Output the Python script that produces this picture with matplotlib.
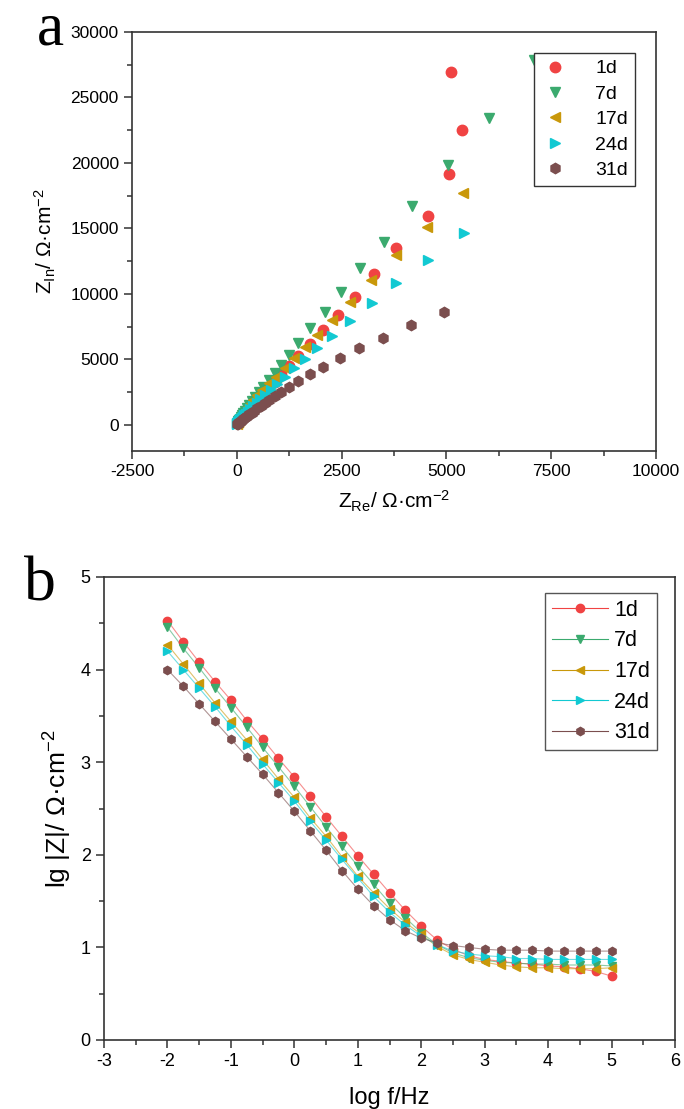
import matplotlib
matplotlib.use("Agg")
import matplotlib.pyplot as plt
from matplotlib.ticker import MultipleLocator

plt.rcParams['font.family'] = ['Liberation Sans', 'DejaVu Sans']
plt.rcParams['mathtext.fontset'] = 'custom'
plt.rcParams['mathtext.rm'] = 'Liberation Sans'
plt.rcParams['mathtext.it'] = 'Liberation Sans:italic'
plt.rcParams['axes.unicode_minus'] = False

labels = ['1d', '7d', '17d', '24d', '31d']
colors = ['#F04343', '#3BAA6E', '#C9980A', '#12C9D2', '#7B4E4E']
markers = ['o', 'v', '<', '>', 'h']

# panel a: Nyquist (Z_re, Z_im)
zre_1d = [5119, 5381, 5071, 4571, 3802, 3262, 2810, 2413, 2056, 1738, 1460, 1240, 1060, 900, 770,
          655, 560, 480, 410, 350, 295, 245, 200, 160, 125, 95, 68, 45, 25]
zim_1d = [26934, 22509, 19152, 15947, 13483, 11521, 9789, 8370, 7249, 6180, 5265, 4500, 3850, 3300, 2820,
          2400, 2050, 1750, 1490, 1260, 1060, 890, 740, 610, 500, 400, 310, 230, 160]
zre_7d = [7095, 6024, 5031, 4190, 3500, 2929, 2476, 2095, 1754, 1460, 1245, 1064, 905, 769, 626,
          520, 430, 355, 290, 235, 190, 150, 118, 90, 66, 46, 30, 17, 8]
zim_7d = [27850, 23402, 19838, 16710, 13986, 11957, 10171, 8645, 7378, 6234, 5341, 4578, 3945, 3434, 2922,
          2500, 2130, 1810, 1530, 1290, 1080, 900, 740, 600, 480, 370, 270, 180, 100]
zre_17d = [5389, 4532, 3802, 3206, 2690, 2278, 1912, 1619, 1365, 1143, 945, 769, 611,
           490, 395, 320, 258, 208, 168, 135, 108, 86, 67, 51, 38, 27, 18, 10, 4]
zim_17d = [17680, 15130, 12971, 11064, 9408, 8012, 6867, 5928, 5087, 4324, 3688, 3180, 2670,
           2250, 1900, 1600, 1350, 1140, 960, 810, 680, 570, 475, 390, 315, 245, 180, 120, 60]
zre_24d = [5429, 4571, 3802, 3230, 2706, 2278, 1912, 1619, 1357, 1143,
           960, 805, 675, 565, 470, 390, 322, 265, 217, 176, 142, 113, 88, 67, 50, 35, 23, 13, 5]
zim_24d = [14626, 12590, 10812, 9286, 7935, 6791, 5852, 5013, 4324, 3688,
           3150, 2690, 2290, 1950, 1660, 1410, 1195, 1010, 850, 715, 598, 497, 410, 335, 270, 210, 155, 105, 55]
zre_31d = [4952, 4167, 3484, 2912, 2452, 2056, 1738, 1460, 1245, 1064,
           910, 780, 668, 572, 490, 418, 356, 302, 255, 214, 178, 147, 120, 96, 75, 56, 40, 25, 12]
zim_31d = [8599, 7630, 6663, 5852, 5089, 4451, 3866, 3357, 2922, 2541,
           2210, 1920, 1665, 1445, 1250, 1080, 930, 800, 685, 585, 495, 418, 350, 290, 235, 185, 140, 95, 50]

# panel b: Bode |Z|
logf = [-2.0, -1.75, -1.5, -1.25, -1.0, -0.75, -0.5, -0.25, 0.0, 0.25, 0.5, 0.75, 1.0, 1.25, 1.5,
        1.75, 2.0, 2.25, 2.5, 2.75, 3.0, 3.25, 3.5, 3.75, 4.0, 4.25, 4.5, 4.75, 5.0]
lgz_1d = [4.53, 4.30, 4.08, 3.87, 3.67, 3.45, 3.25, 3.04, 2.84, 2.63, 2.41, 2.20, 1.99, 1.79, 1.59,
          1.40, 1.23, 1.08, 0.98, 0.91, 0.87, 0.85, 0.83, 0.82, 0.80, 0.79, 0.77, 0.74, 0.69]
lgz_7d = [4.46, 4.23, 4.02, 3.80, 3.59, 3.38, 3.16, 2.95, 2.74, 2.52, 2.30, 2.09, 1.88, 1.68, 1.48,
          1.32, 1.16, 1.03, 0.94, 0.89, 0.86, 0.84, 0.83, 0.82, 0.82, 0.81, 0.81, 0.81, 0.80]
lgz_17d = [4.27, 4.06, 3.85, 3.64, 3.44, 3.24, 3.03, 2.82, 2.62, 2.40, 2.20, 1.98, 1.77, 1.59, 1.42,
           1.27, 1.14, 1.01, 0.92, 0.87, 0.84, 0.81, 0.79, 0.78, 0.78, 0.77, 0.77, 0.77, 0.78]
lgz_24d = [4.20, 4.00, 3.80, 3.60, 3.39, 3.19, 2.98, 2.78, 2.58, 2.36, 2.16, 1.95, 1.75, 1.55, 1.38,
           1.24, 1.12, 1.03, 0.96, 0.93, 0.91, 0.90, 0.88, 0.88, 0.87, 0.87, 0.87, 0.87, 0.87]
lgz_31d = [4.00, 3.82, 3.63, 3.44, 3.25, 3.06, 2.87, 2.67, 2.47, 2.26, 2.05, 1.83, 1.63, 1.45, 1.30,
           1.18, 1.10, 1.05, 1.02, 1.00, 0.98, 0.97, 0.97, 0.97, 0.96, 0.96, 0.96, 0.96, 0.96]

nyq = [(zre_1d, zim_1d), (zre_7d, zim_7d), (zre_17d, zim_17d), (zre_24d, zim_24d), (zre_31d, zim_31d)]
bode = [lgz_1d, lgz_7d, lgz_17d, lgz_24d, lgz_31d]

W, H = 684, 1109
fig = plt.figure(figsize=(W / 100, H / 100), dpi=100)


def style_axes(ax, size):
    for s in ax.spines.values():
        s.set_linewidth(1.2)
        s.set_color('#333333')
    ax.tick_params(which='both', direction='out', colors='#333333', labelcolor='black',
                   labelsize=size, width=1.1)
    ax.tick_params(which='major', length=6)
    ax.tick_params(which='minor', length=3.5)


# ---- panel a ----
ax1 = fig.add_axes([132 / W, 1 - 451 / H, (656 - 132) / W, (451 - 32) / H])
for (xr, yi), c, m, lab in zip(nyq, colors, markers, labels):
    ax1.plot(xr, yi, ls='none', marker=m, ms=7.5, color=c, mec=c, label=lab)
ax1.set_xlim(-2500, 10000)
ax1.set_ylim(-2000, 30000)
ax1.xaxis.set_major_locator(MultipleLocator(2500))
ax1.xaxis.set_minor_locator(MultipleLocator(1250))
ax1.yaxis.set_major_locator(MultipleLocator(5000))
ax1.yaxis.set_minor_locator(MultipleLocator(2500))
style_axes(ax1, 12.5)
ax1.set_xlabel(r'Z$_{\mathrm{Re}}$/ Ω·cm$^{\mathrm{-2}}$', fontsize=15, labelpad=7)
ax1.set_ylabel(r'Z$_{\mathrm{In}}$/ Ω·cm$^{\mathrm{-2}}$', fontsize=15, labelpad=9)
leg1 = ax1.legend(loc='upper right', bbox_to_anchor=(0.96, 0.95), borderaxespad=0, fontsize=14,
                  fancybox=False, edgecolor='#333333', framealpha=1, handletextpad=1.3,
                  labelspacing=0.4, borderpad=0.35, handlelength=1.5)
leg1.get_frame().set_linewidth(1.0)
leg1.set_zorder(5)
fig.text(50 / W, 1 - 30 / H, 'a', family=['Liberation Serif', 'DejaVu Serif'], fontsize=44,
         ha='center', va='center')

# ---- panel b ----
ax2 = fig.add_axes([104 / W, 1 - 1040 / H, (675 - 104) / W, (1040 - 577) / H])
for y, c, m, lab in zip(bode, colors, markers, labels):
    ax2.plot(logf, y, '-', lw=0.8, color=c, alpha=0.6, zorder=2)
    ax2.plot(logf, y, ls='none', marker=m, ms=6, color=c, mec=c, zorder=3)
    ax2.plot([], [], '-', lw=0.8, color=c, marker=m, ms=6, mec=c, label=lab)
ax2.set_xlim(-3, 6)
ax2.set_ylim(0, 5)
ax2.xaxis.set_major_locator(MultipleLocator(1))
ax2.xaxis.set_minor_locator(MultipleLocator(0.5))
ax2.yaxis.set_major_locator(MultipleLocator(1))
ax2.yaxis.set_minor_locator(MultipleLocator(0.5))
style_axes(ax2, 13)
ax2.set_xlabel('log f/Hz', fontsize=17, labelpad=12)
ax2.set_ylabel(r'lg |Z|/ Ω·cm$^{\mathrm{-2}}$', fontsize=19, labelpad=5)
leg2 = ax2.legend(loc='upper right', bbox_to_anchor=(0.968, 0.965), borderaxespad=0, fontsize=15.5,
                  fancybox=False, edgecolor='#555555', framealpha=1, handletextpad=0.3,
                  labelspacing=0.45, borderpad=0.3, handlelength=2.6)
leg2.get_frame().set_linewidth(1.0)
fig.text(40 / W, 1 - 585 / H, 'b', family=['Liberation Serif', 'DejaVu Serif'], fontsize=46,
         ha='center', va='center')

fig.savefig('out.png', dpi=100)
